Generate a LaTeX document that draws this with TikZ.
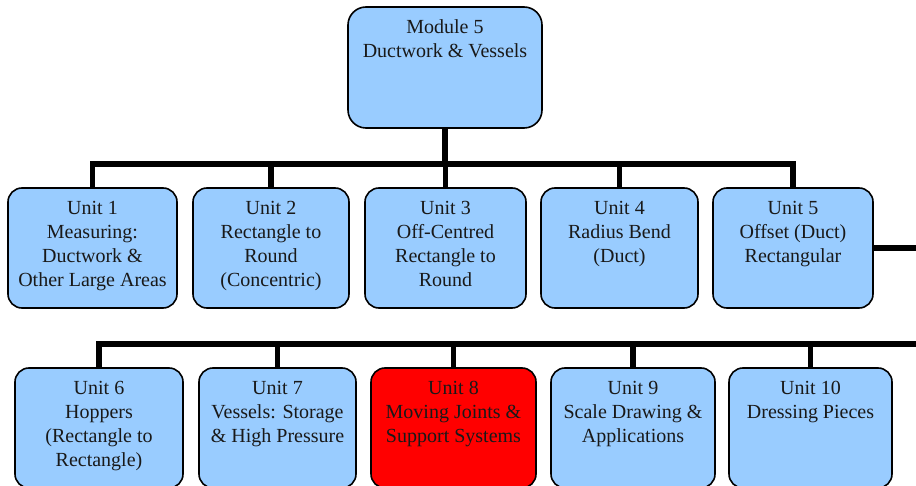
\documentclass[tikz,border=0pt]{standalone}
\usepackage{fontspec}
\setmainfont{Liberation Serif}
\definecolor{boxblue}{HTML}{99CCFF}
\definecolor{boxred}{HTML}{FF0000}
\begin{document}
\begin{tikzpicture}[x=1pt,y=-1pt,
  ubox/.style={draw=black, line width=1.6pt, rounded corners=14pt, fill=boxblue,
    inner sep=0pt, outer sep=0pt, minimum height=120pt},
  redbox/.style={ubox, fill=boxred},
  utext/.style={anchor=north, inner sep=0pt, align=center,
    font=\fontsize{20}{24}\selectfont, text=black!90},
  conn/.style={draw=black, line width=5.5pt, line join=miter}]
\clip (0,0) rectangle (916,486);
\fill[white] (0,0) rectangle (916,486);

% top box
\node[ubox, rounded corners=18pt, minimum width=194pt, minimum height=121pt] (top) at (445,67.5) {};
\node[utext] (topt) at ([yshift=-9.2pt]top.north) {\strut Module 5\\Ductwork \& Vessels};

% row 1
\node[ubox, minimum width=169pt] (u1) at (92.5,248) {};
\node[ubox, minimum width=156pt] (u2) at (271,248) {};
\node[ubox, minimum width=161pt] (u3) at (445.5,248) {};
\node[ubox, minimum width=157pt] (u4) at (619.5,248) {};
\node[ubox, minimum width=160pt] (u5) at (793,248) {};

\node[utext] (u1t) at ([yshift=-9.2pt]u1.north) {\strut Unit 1\\Measuring:\\Ductwork \&\\Other Large Areas};
\node[utext] (u2t) at ([yshift=-9.2pt]u2.north) {\strut Unit 2\\Rectangle to\\Round\\(Concentric)};
\node[utext] (u3t) at ([yshift=-9.2pt]u3.north) {\strut Unit 3\\Off-Centred\\Rectangle to\\Round};
\node[utext] (u4t) at ([yshift=-9.2pt]u4.north) {\strut Unit 4\\Radius Bend\\(Duct)};
\node[utext] (u5t) at ([yshift=-9.2pt]u5.north) {\strut Unit 5\\Offset (Duct)\\Rectangular};

% row 2
\node[ubox, minimum width=168pt] (u6) at (99,428) {};
\node[ubox, minimum width=157pt] (u7) at (277.5,428) {};
\node[redbox, minimum width=165pt] (u8) at (453.5,428) {};
\node[ubox, minimum width=164pt] (u9) at (633,428) {};
\node[ubox, minimum width=163pt] (u10) at (810.5,428) {};

\node[utext] (u6t) at ([yshift=-9.2pt]u6.north) {\strut Unit 6\\Hoppers\\(Rectangle to\\Rectangle)};
\node[utext] (u7t) at ([yshift=-9.2pt]u7.north) {\strut Unit 7\\Vessels: Storage\\\& High Pressure};
\node[utext] (u8t) at ([yshift=-9.2pt]u8.north) {\strut Unit 8\\Moving Joints \&\\Support Systems};
\node[utext] (u9t) at ([yshift=-9.2pt]u9.north) {\strut Unit 9\\Scale Drawing \&\\Applications};
\node[utext] (u10t) at ([yshift=-9.2pt]u10.north) {\strut Unit 10\\Dressing Pieces};

% connector levels
\coordinate (bar1) at (0,164);
\coordinate (bar2) at (0,344);
\coordinate (edge1) at (920,248);
\coordinate (edge2) at (920,344);

% row 1 connectors
\draw[conn] (top.south) -- (top.south |- bar1);
\draw[conn] (u1.north) -- (u1.north |- bar1) -- (u5.north |- bar1) -- (u5.north);
\draw[conn] (u2.north) -- (u2.north |- bar1);
\draw[conn] (u3.north) -- (u3.north |- bar1);
\draw[conn] (u4.north) -- (u4.north |- bar1);
\draw[conn] (u5.east) -- (edge1);

% row 2 connectors
\draw[conn] (u6.north) -- (u6.north |- bar2) -- (edge2);
\draw[conn] (u7.north) -- (u7.north |- bar2);
\draw[conn] (u8.north) -- (u8.north |- bar2);
\draw[conn] (u9.north) -- (u9.north |- bar2);
\draw[conn] (u10.north) -- (u10.north |- bar2);
\end{tikzpicture}
\end{document}
